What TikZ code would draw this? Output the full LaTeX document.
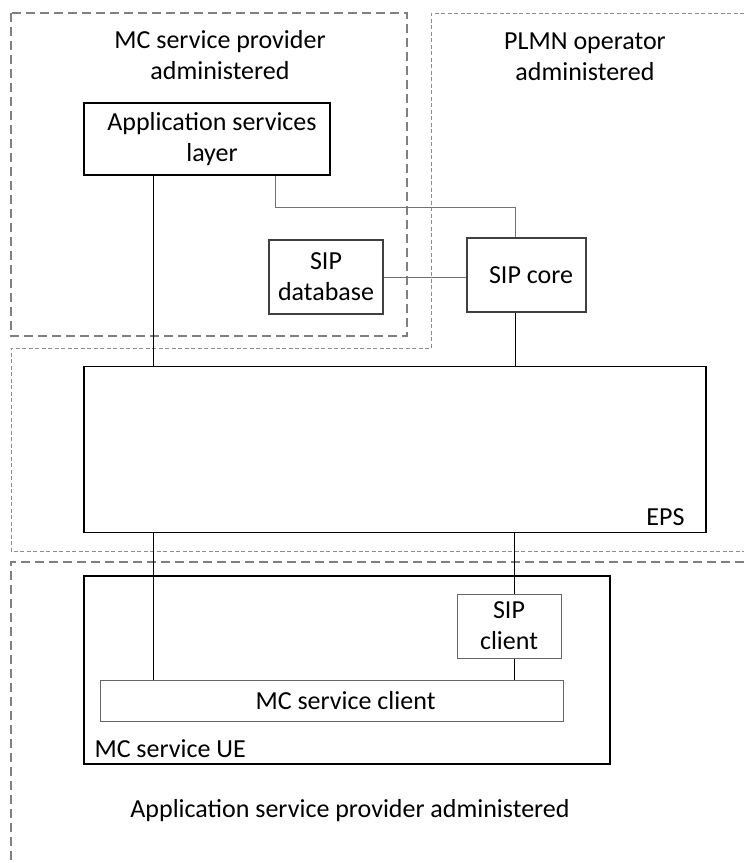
\documentclass[tikz,border=0pt]{standalone}
\usepackage{fontspec}
\setmainfont{Carlito}
\usetikzlibrary{positioning}

\begin{document}
\begin{tikzpicture}[x=1pt,y=-1pt,font=\fontsize{26}{31}\selectfont]
\tikzstyle{block} = [rectangle, draw=black, line width=1.7pt, align=center,
inner sep=0pt]
\tikzstyle{block_sip} = [rectangle, draw=black!75, line width=1.3pt, align=center,
inner sep=0pt]
\tikzstyle{block_ue} = [rectangle, draw=black!60, line width=1pt, align=center,
inner sep=0pt]
\tikzstyle{line} = [draw, line width=1pt];
\tikzstyle{line_grey} = [draw, line width=1pt, black!55];
\tikzstyle{admin_area} = [draw=black!50, line width=1.2pt, dash pattern=on 9pt off 5pt];
\tikzstyle{admin_op} = [draw=black!45, line width=0.8pt, dash pattern=on 4pt off 2.5pt];
\useasboundingbox (0,0) rectangle (744,863);
% administrative areas
\path[admin_area] (11,13) rectangle (407,336);
\path[admin_op] (744,13) -- (431,13) -- (431,348) -- (11,348) -- (11,551) -- (744,551);
\path[admin_area] (744,562) -- (11,562) -- (11,863);
\node (mctitle) at (220,55.5) [align=center] {MC service provider\\administered};
\node (plmntitle) at (585,56.5) [align=center] {PLMN operator\\administered};
\node [anchor=base] (asptitle) at (350,817) {Application service provider administered};
% servers
\node [block, minimum width=246pt, minimum height=72pt] (asl) at (207,139)
{\hspace{10pt}Application services\\\hspace{10pt}layer};
\node [block_sip, minimum width=114pt, minimum height=74pt] (sipdb) at (326,277)
{SIP\\database};
\node [block_sip, minimum width=119pt, minimum height=74pt] (sipcore) at (526.5,275)
{\hspace{9pt}SIP core};
% EPS
\node [block, minimum width=622pt, minimum height=166pt] (eps) at (395,449.5) {};
\node [anchor=base east] (epslabel) at (688,525) {EPS};
% UE
\node [block, minimum width=526pt, minimum height=188pt] (ue) at (347,670) {};
\node [anchor=base west] (uelabel) at (91,757) {MC service UE};
\node [block_ue, minimum width=104pt, minimum height=64pt] (sipclient) at (509,626)
{SIP\\client};
\node [block_ue, minimum width=463pt, minimum height=41pt] (mcclient) at (331.5,701)
{\hspace{28pt}MC service client};
\tikzstyle{every path}=[line]
\path (asl.south -| 153,0) -- (eps.north -| 153,0);
\path (sipcore.south -| 515,0) -- (eps.north -| 515,0);
\path[line_grey] (asl.south -| 275,0) -- (275,207) -- (515,207) -- (sipcore.north -| 515,0);
\path[line_grey] (sipdb.east) -- (sipdb.east -| sipcore.west);
\path (eps.south -| 153,0) -- (mcclient.north -| 153,0);
\path (eps.south -| 514,0) -- (sipclient.north -| 514,0);
\path (sipclient.south -| 514,0) -- (mcclient.north -| 514,0);

\end{tikzpicture}
\end{document}
